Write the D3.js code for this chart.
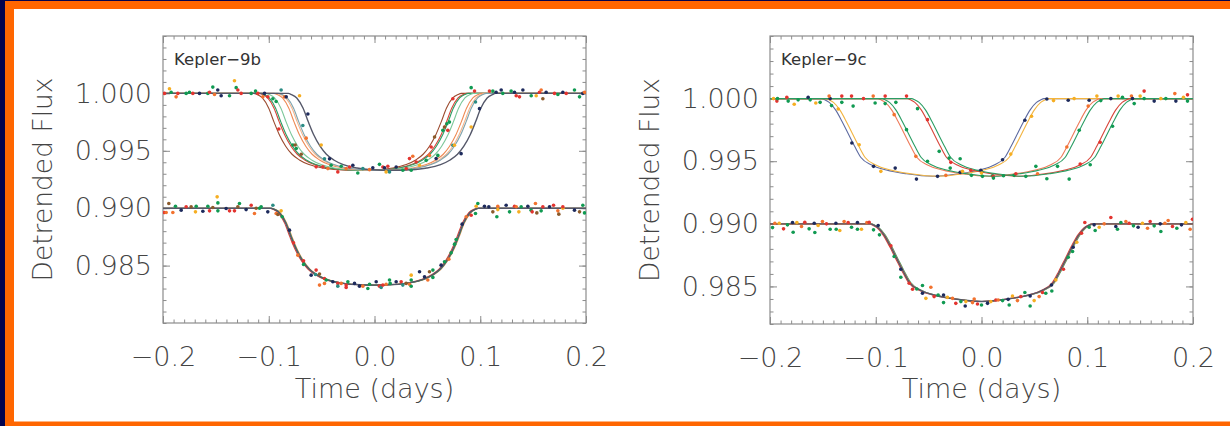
<!DOCTYPE html>
<html>
<head>
<meta charset="utf-8">
<script src="https://cdn.jsdelivr.net/npm/d3@7"></script>
<style>
  html, body { margin: 0; padding: 0; background: #03034e; }
  svg { display: block; }
</style>
</head>
<body>
<svg id="chart" width="1230" height="426"></svg>
<script>
// Axis ticks (labelled)
const timeTicks = [-0.2, -0.1, 0.0, 0.1, 0.2]
const fluxTicks = [0.985, 0.990, 0.995, 1.000]

// Transit shape: [days from mid-transit, depth below baseline]
const shape9b = [[0, 0.0067], [0.018, 0.00665], [0.033, 0.0065], [0.046, 0.0062], [0.055, 0.0058],
  [0.062, 0.0053], [0.068, 0.0046], [0.074, 0.0036], [0.079, 0.0025], [0.084, 0.0013],
  [0.090, 0.0004], [0.095, 0.0001], [0.098, 0], [0.3, 0]]
const shape9c = [[0, 0.0062], [0.025, 0.0060], [0.044, 0.0057], [0.058, 0.0053], [0.068, 0.0047],
  [0.074, 0.0038], [0.080, 0.0028], [0.086, 0.0018], [0.092, 0.0009], [0.098, 0.0003],
  [0.102, 0.0001], [0.105, 0], [0.3, 0]]

// Mid-transit shift of each fitted curve (days) and its colour key
const shift9bTop = [-0.016, -0.011, -0.0095, -0.0045, 0.003, 0.006, 0.0075, 0.0165]
const curve9bTop = ["brown", "red", "green", "ltgreen", "orange", "peach", "teal", "dark"]
const shift9bBottom = [0.001, -0.001, 0.0005, 0]
const curve9bBottom = ["orange", "red", "green", "dark"]
const shift9cTop = [-0.046, -0.042, 0.007, 0.011, 0.035, 0.039]
const curve9cTop = ["slate", "yellow", "coral", "green", "red", "green"]
const shift9cBottom = [0.001, -0.001, 0.0005, 0]
const curve9cBottom = ["green", "red", "orange", "dark"]

// Baselines of the upper (individual) and lower (aligned) light curves
const baseTop = 1.000
const baseBottom = 0.990

// Data points: [time, flux, colour key]
const pts9bTop = [
  [-0.1986,1.0000,"r"],[-0.1939,1.0004,"y"],[-0.1923,1.0001,"g"],[-0.1876,0.9997,"o"],[-0.1860,1.0000,"r"],
  [-0.1781,1.0000,"g"],[-0.1750,1.0001,"g"],[-0.1718,1.0000,"r"],[-0.1655,1.0000,"n"],[-0.1576,1.0000,"g"],
  [-0.1560,1.0001,"r"],[-0.1529,1.00055,"g"],[-0.1513,0.9999,"o"],[-0.1482,1.0003,"n"],[-0.1450,0.9998,"n"],
  [-0.1371,0.9998,"g"],[-0.1324,1.0011,"y"],[-0.1308,1.0005,"g"],[-0.1292,1.0003,"r"],[-0.1261,1.0000,"r"],
  [-0.1166,1.0000,"g"],[-0.1125,1.0002,"g"],[-0.1103,1.0000,"r"],[-0.1056,0.9997,"o"],[-0.1040,1.0000,"n"],
  [-0.1009,0.9997,"r"],[-0.0961,0.99954,"g"],[-0.0930,0.9993,"g"],[-0.0883,1.0003,"t"],[-0.0851,0.9997,"o"],
  [-0.0835,0.9997,"n"],[-0.0709,0.9998,"y"],
  [-0.0905,0.9969,"r"],[-0.0772,0.9955,"g"],[-0.0740,0.9952,"g"],[-0.0750,0.9955,"b"],[-0.0693,0.9947,"b"],
  [-0.0678,0.9972,"t"],[-0.0646,0.9961,"o"],[-0.0630,0.9982,"n"],[-0.0504,0.9955,"y"],[-0.0473,0.9943,"t"],
  [-0.0425,0.9943,"n"],
  [-0.0552,0.9936,"r"],[-0.0489,0.9936,"r"],[-0.0441,0.99345,"o"],[-0.0410,0.99374,"g"],[-0.0347,0.99316,"r"],
  [-0.0315,0.99365,"g"],[-0.0268,0.99345,"o"],[-0.0236,0.99359,"r"],[-0.0205,0.99374,"n"],[-0.0158,0.99307,"g"],
  [-0.0110,0.99345,"t"],[-0.0047,0.99336,"o"],[-0.0016,0.99353,"n"],[0.0047,0.99382,"g"],[0.0079,0.99359,"r"],
  [0.0095,0.99353,"n"],[0.0110,0.99316,"y"],[0.0126,0.99365,"r"],[0.0142,0.99316,"t"],[0.0205,0.99359,"n"],
  [0.0268,0.9933,"g"],[0.0300,0.99345,"r"],[0.0331,0.99432,"r"],[0.0347,0.9933,"g"],[0.0362,0.99452,"o"],
  [0.0394,0.99403,"r"],[0.0426,0.99374,"y"],[0.0489,0.99417,"g"],[0.0520,0.9946,"o"],[0.0536,0.99533,"r"],
  [0.0568,0.9962,"b"],[0.0583,0.99432,"n"],[0.0599,0.9946,"g"],[0.0646,0.99678,"g"],[0.0662,0.99707,"b"],
  [0.0684,0.99736,"g"],[0.0693,0.99678,"r"],[0.0709,0.9975,"g"],[0.0741,0.99548,"t"],[0.0756,0.99548,"y"],
  [0.0819,0.99475,"n"],[0.0741,0.99954,"r"],[0.0914,1.0005,"g"],[0.0946,1.0002,"r"],[0.0914,0.99707,"y"],
  [0.0955,0.99925,"t"],[0.0993,0.99867,"n"],
  [0.1087,1.0002,"r"],[0.1119,1.0002,"g"],[0.1150,1.0001,"n"],[0.1198,1.0003,"n"],[0.1213,1.0000,"g"],
  [0.1292,1.0002,"g"],[0.1324,1.0001,"n"],[0.1340,0.9998,"r"],[0.1371,0.9997,"r"],[0.1403,1.0003,"n"],
  [0.1482,0.9998,"g"],[0.1529,0.9998,"y"],[0.1560,1.0001,"r"],[0.1576,1.0003,"o"],[0.1592,0.99954,"b"],
  [0.1623,1.0001,"n"],[0.1702,1.0000,"r"],[0.1734,0.9999,"g"],[0.1781,1.0001,"n"],[0.1813,1.0000,"r"],
  [0.1891,1.0003,"g"],[0.1939,0.9997,"g"],[0.1970,1.0000,"n"],[0.1986,1.0001,"o"]
]
const pts9bBottom = [
  [-0.1986,0.98962,"r"],[-0.1970,0.98962,"o"],[-0.1945,0.99041,"b"],[-0.1907,0.98962,"o"],[-0.1882,0.99017,"g"],
  [-0.1828,0.98983,"n"],[-0.1781,0.99012,"r"],[-0.1734,0.99012,"b"],[-0.1693,0.98968,"y"],[-0.1686,0.99017,"g"],
  [-0.1623,0.98974,"n"],[-0.1576,0.99017,"g"],[-0.1560,0.98977,"r"],[-0.1529,0.99006,"b"],[-0.1488,0.99099,"y"],
  [-0.1481,0.99046,"g"],[-0.1481,0.98977,"g"],[-0.1403,0.98997,"n"],[-0.1371,0.98977,"r"],[-0.1324,0.98977,"r"],
  [-0.1292,0.99012,"b"],[-0.1277,0.99041,"g"],[-0.1214,0.98988,"n"],[-0.1166,0.99026,"r"],[-0.1135,0.98954,"o"],
  [-0.1119,0.99,"b"],[-0.1087,0.99,"g"],[-0.1072,0.99012,"g"],[-0.1009,0.98968,"n"],[-0.0961,0.99026,"t"],
  [-0.0930,0.98954,"o"],[-0.0914,0.98945,"b"],[-0.0883,0.98977,"y"],[-0.0873,0.98925,"g"],[-0.0804,0.98809,"n"],
  [-0.0766,0.98698,"r"],[-0.0725,0.98591,"o"],[-0.0671,0.98542,"r"],[-0.0671,0.9851,"g"],[-0.0599,0.98417,"n"],
  [-0.0558,0.98423,"t"],[-0.0552,0.98461,"r"],[-0.0520,0.98426,"b"],[-0.0520,0.9833,"o"],[-0.0473,0.98345,"o"],
  [-0.0473,0.98388,"r"],[-0.0457,0.98374,"g"],[-0.0394,0.98359,"n"],[-0.0347,0.98345,"r"],[-0.0347,0.98321,"t"],
  [-0.0315,0.98345,"o"],[-0.0268,0.9833,"r"],[-0.0268,0.9831,"r"],[-0.0252,0.98359,"g"],[-0.0189,0.98345,"n"],
  [-0.0142,0.98321,"n"],[-0.0110,0.98321,"o"],[-0.0063,0.98301,"g"],[-0.0047,0.98338,"g"],[0.0016,0.98359,"n"],
  [0.0047,0.98321,"r"],[0.0063,0.9831,"t"],[0.0079,0.9833,"r"],[0.0110,0.98338,"o"],[0.0142,0.98374,"g"],
  [0.0148,0.98345,"g"],[0.0205,0.98359,"n"],[0.0252,0.98359,"r"],[0.0268,0.9833,"t"],[0.0299,0.98345,"b"],
  [0.0331,0.98338,"o"],[0.0347,0.98374,"g"],[0.0347,0.98417,"y"],[0.0347,0.9832,"g"],[0.0426,0.98446,"n"],
  [0.0473,0.98403,"n"],[0.0504,0.98374,"o"],[0.0520,0.98446,"b"],[0.0552,0.98461,"g"],[0.0552,0.98397,"g"],
  [0.0630,0.98504,"n"],[0.0662,0.98533,"g"],[0.0703,0.98556,"o"],[0.0725,0.98611,"g"],[0.0757,0.98687,"g"],
  [0.0772,0.98727,"g"],[0.0829,0.98861,"n"],[0.0867,0.98925,"o"],[0.0914,0.98939,"r"],[0.0955,0.98954,"g"],
  [0.0961,0.99017,"y"],[0.0977,0.99041,"g"],[0.1040,0.99017,"n"],[0.1081,0.99012,"n"],[0.1119,0.98968,"b"],
  [0.1157,0.98925,"g"],[0.1166,0.99017,"o"],[0.1166,0.98988,"y"],[0.1245,0.99026,"n"],[0.1277,0.98968,"g"],
  [0.1324,0.99017,"r"],[0.1340,0.99012,"o"],[0.1365,0.98968,"y"],[0.1387,0.99012,"g"],[0.1450,0.99017,"n"],
  [0.1481,0.98983,"g"],[0.1491,0.98968,"r"],[0.1522,0.99041,"o"],[0.1535,0.98959,"b"],[0.1576,0.98977,"g"],
  [0.1592,0.99012,"r"],[0.1655,0.99012,"n"],[0.1693,0.99026,"r"],[0.1734,0.98977,"o"],[0.1743,0.98948,"b"],
  [0.1781,0.99,"y"],[0.1781,0.99012,"r"],[0.1891,0.98983,"n"],[0.1939,0.98968,"b"],[0.1970,0.99026,"g"],
  [0.1986,0.98959,"g"]
]
const pts9cTop = [
  [-0.1967,1.0000,"y"],[-0.1935,0.9998,"r"],[-0.1929,1.0000,"g"],[-0.1841,1.0001,"r"],[-0.1828,0.9998,"g"],
  [-0.1771,0.99955,"y"],[-0.1734,0.9999,"g"],[-0.1639,1.0001,"n"],[-0.1620,0.9999,"g"],[-0.1567,0.99965,"y"],
  [-0.1526,0.9997,"g"],[-0.1431,1.0000,"n"],[-0.1441,1.0002,"o"],[-0.1418,0.99944,"g"],[-0.1355,0.99917,"y"],
  [-0.1321,1.0002,"r"],[-0.1321,0.9997,"g"],[-0.1229,1.0002,"r"],[-0.1214,0.9994,"g"],[-0.1226,0.99645,"n"],
  [-0.1157,0.99632,"y"],[-0.1116,1.0000,"r"],[-0.1024,1.0002,"o"],[-0.1006,0.99965,"g"],[-0.1021,0.99459,"n"],
  [-0.0952,0.99419,"y"],[-0.0911,1.0002,"r"],[-0.0911,0.9996,"g"],[-0.0826,0.99872,"o"],[-0.0810,0.9997,"g"],
  [-0.0816,0.99445,"n"],[-0.0709,1.0002,"r"],[-0.0709,0.99752,"g"],[-0.0621,0.99539,"o"],[-0.0615,0.99357,"n"],
  [-0.0605,0.9992,"g"],[-0.0511,0.99832,"r"],[-0.0511,0.99499,"g"],[-0.0416,0.99379,"n"],[-0.0400,0.99579,"g"],
  [-0.0337,0.99387,"o"],[-0.0306,0.99525,"g"],[-0.0296,0.99445,"g"],[-0.0290,0.99491,"r"],[-0.0202,0.9952,"g"],
  [-0.0202,0.99411,"n"],[-0.0180,0.99419,"y"],[-0.0101,0.99427,"r"],[-0.0095,0.99387,"g"],[-0.0006,0.99427,"n"],
  [0.0000,0.99405,"y"],[0.0009,0.99379,"g"],[0.0104,0.99384,"g"],[0.0110,0.99379,"r"],[0.0113,0.99365,"g"],
  [0.0199,0.99512,"n"],[0.0208,0.99384,"g"],[0.0277,0.99557,"y"],[0.0309,0.99387,"g"],[0.0325,0.994,"r"],
  [0.0410,0.99827,"n"],[0.0419,0.99379,"g"],[0.0473,0.99859,"y"],[0.0514,0.99459,"g"],[0.0530,0.994,"o"],
  [0.0618,0.99997,"n"],[0.0618,0.9936,"g"],[0.0681,0.99984,"y"],[0.0719,0.99459,"g"],[0.0807,0.99613,"o"],
  [0.0820,0.99987,"n"],[0.0829,0.99357,"g"],[0.0876,1.0000,"y"],[0.0924,0.99747,"g"],[0.0933,0.99477,"r"],
  [0.1018,0.99987,"n"],[0.1028,0.99472,"g"],[0.1009,0.9994,"o"],[0.1091,1.0002,"y"],[0.1122,0.99651,"r"],
  [0.1128,0.99984,"g"],[0.1223,1.0000,"n"],[0.1239,0.99779,"g"],[0.1292,1.0002,"y"],[0.1333,1.0001,"g"],
  [0.1418,1.0002,"o"],[0.1428,1.0000,"n"],[0.1444,0.9996,"g"],[0.1500,1.0002,"y"],[0.1538,1.0006,"r"],
  [0.1538,1.0000,"g"],[0.1633,0.9998,"n"],[0.1696,1.0000,"y"],[0.1743,1.0000,"g"],[0.1828,1.0004,"o"],
  [0.1838,0.9998,"n"],[0.1910,1.0001,"y"],[0.1948,1.0003,"r"],[0.1948,0.9998,"g"]
]
const pts9cBottom = [
  [-0.1976,0.9897,"g"],[-0.1954,0.99005,"o"],[-0.1913,0.99005,"y"],[-0.1872,0.9896,"r"],[-0.1835,0.98992,"g"],
  [-0.1787,0.99011,"n"],[-0.1781,0.98933,"g"],[-0.1746,0.99011,"y"],[-0.1702,0.98979,"o"],[-0.1671,0.99013,"r"],
  [-0.1630,0.9896,"g"],[-0.1582,0.99005,"n"],[-0.1576,0.98931,"g"],[-0.1545,0.98987,"y"],[-0.1504,0.99019,"o"],
  [-0.1466,0.99,"r"],[-0.1431,0.98957,"g"],[-0.1374,0.98957,"g"],[-0.1377,0.99005,"n"],[-0.1340,0.98947,"y"],
  [-0.1299,0.99019,"o"],[-0.1261,0.99011,"r"],[-0.1229,0.98973,"g"],[-0.1173,0.99011,"n"],[-0.1173,0.98957,"g"],
  [-0.1135,0.98957,"y"],[-0.1084,0.99011,"o"],[-0.1062,0.99013,"r"],[-0.1021,0.98952,"g"],[-0.0977,0.98987,"n"],
  [-0.0965,0.98912,"g"],[-0.0857,0.98824,"r"],[-0.0826,0.98739,"g"],[-0.0763,0.98637,"n"],[-0.0763,0.98573,"g"],
  [-0.0684,0.98525,"r"],[-0.0652,0.98477,"r"],[-0.0612,0.9848,"g"],[-0.0558,0.98507,"g"],[-0.0558,0.98445,"n"],
  [-0.0526,0.98405,"y"],[-0.0479,0.98493,"o"],[-0.0448,0.98419,"r"],[-0.0410,0.98432,"g"],[-0.0359,0.98432,"n"],
  [-0.0359,0.98371,"g"],[-0.0322,0.98413,"y"],[-0.0274,0.98405,"o"],[-0.0243,0.98365,"r"],[-0.0195,0.98379,"g"],
  [-0.0154,0.98344,"n"],[-0.0148,0.98379,"y"],[-0.0085,0.98371,"o"],[-0.0069,0.984,"o"],[-0.0038,0.9836,"r"],
  [0.0000,0.98352,"g"],[0.0057,0.98365,"n"],[0.0088,0.98379,"y"],[0.0136,0.98392,"r"],[0.0158,0.98392,"o"],
  [0.0199,0.98387,"g"],[0.0252,0.98397,"n"],[0.0262,0.98352,"g"],[0.0293,0.98424,"y"],[0.0340,0.98387,"o"],
  [0.0372,0.98419,"r"],[0.0410,0.98451,"g"],[0.0460,0.98424,"n"],[0.0460,0.98344,"g"],[0.0498,0.98387,"y"],
  [0.0545,0.98419,"o"],[0.0577,0.98451,"r"],[0.0608,0.98445,"g"],[0.0665,0.98464,"g"],[0.0662,0.98512,"n"],
  [0.0703,0.98552,"y"],[0.0775,0.98637,"r"],[0.0820,0.98733,"g"],[0.0867,0.98813,"n"],[0.0901,0.98853,"y"],
  [0.0861,0.98779,"g"],[0.0946,0.98925,"r"],[0.0977,0.99011,"r"],[0.1018,0.98973,"g"],[0.1065,0.98992,"n"],
  [0.1075,0.98947,"g"],[0.1113,0.98973,"y"],[0.1160,0.99,"o"],[0.1223,0.99051,"r"],[0.1270,0.98979,"n"],
  [0.1286,0.98957,"g"],[0.1318,0.99011,"g"],[0.1365,0.99019,"o"],[0.1396,0.99005,"r"],[0.1437,0.98984,"g"],
  [0.1481,0.98973,"n"],[0.1522,0.99005,"y"],[0.1570,0.98965,"o"],[0.1595,0.99019,"r"],[0.1633,0.98984,"g"],
  [0.1690,0.99,"n"],[0.1696,0.98939,"g"],[0.1734,0.99005,"o"],[0.1765,0.99027,"o"],[0.1806,0.98979,"r"],
  [0.1847,0.98965,"g"],[0.1891,0.98992,"n"],[0.1932,0.99011,"y"],[0.1973,0.98957,"o"],[0.1995,0.99037,"r"]
]

// Colours
const pointColor = { r: "#e3342f", o: "#f2722e", y: "#f6ae22", g: "#109a52", n: "#1d2a5c", b: "#8b5a2b", t: "#2a8c84" }
const lineColor = {
  brown: "#9b4a2e", red: "#d9453a", green: "#2a9d63", ltgreen: "#7cc79a", orange: "#ee8a55",
  peach: "#f3b58e", teal: "#7ea3ad", dark: "#55586a", slate: "#5d6aa0", yellow: "#f2b440", coral: "#ee7a5a"
}
const fontFamily = "'DejaVu Sans', sans-serif"
const textColor = "#444"
const frameColor = "#8c8c8c"

const svg = d3.select("#chart")

// Slide background: navy edge, orange border, white card
svg.append("rect").attr("width", 1230).attr("height", 426).attr("fill", "#03034e")
svg.append("rect").attr("x", 5).attr("y", 1).attr("width", 1225).attr("height", 425).attr("fill", "#ff6600")
svg.append("rect").attr("x", 14).attr("y", 9).attr("width", 1216).attr("height", 412.5).attr("fill", "#ffffff")

/**
 * Build the points of one model curve from a shape, a shift and a baseline
 */
function curvePoints(shape, shift, base) {
  let left = shape.slice(1).reverse().map(d => [shift - d[0], base - d[1]])
  let right = shape.map(d => [shift + d[0], base - d[1]])
  return left.concat(right)
}

/**
 * Draw one panel (frame, ticks, curves, points, labels)
 */
function drawPanel(p) {
  const x = d3.scaleLinear().domain([-0.2, 0.2]).range([p.left, p.right])
  const y = d3.scaleLinear().domain(p.flux).range([p.bottom, p.top])
  const g = svg.append("g")

  // Clip to the plot box
  g.append("clipPath").attr("id", "clip-" + p.id)
   .append("rect").attr("x", p.left).attr("y", p.top)
   .attr("width", p.right - p.left).attr("height", p.bottom - p.top)

  // Ticks on all four sides, pointing inward
  const minorX = x.ticks(40)
  const minorY = y.ticks(30)
  const axes = [
    [d3.axisBottom, x, `translate(0,${p.bottom})`, timeTicks, minorX, true],
    [d3.axisTop, x, `translate(0,${p.top})`, timeTicks, minorX, false],
    [d3.axisLeft, y, `translate(${p.left},0)`, fluxTicks, minorY, true],
    [d3.axisRight, y, `translate(${p.right},0)`, fluxTicks, minorY, false]
  ]
  axes.forEach(([makeAxis, scale, tr, major, minor, labelled]) => {
    g.append("g").attr("transform", tr)
     .call(makeAxis(scale).tickValues(minor).tickSize(-3.5).tickFormat(""))
    let isX = major === timeTicks
    g.append("g").attr("transform", tr)
     .call(makeAxis(scale).tickValues(major).tickSize(-7)
       .tickPadding(isX ? 24 : 11)
       .tickFormat(labelled ? d3.format(isX ? ".1f" : ".3f") : ""))
  })
  g.selectAll(".domain").remove()
  g.selectAll(".tick line").attr("stroke", frameColor).attr("stroke-width", 1)
  g.selectAll(".tick text").attr("fill", textColor).attr("font-size", 27)
   .attr("font-family", fontFamily).attr("font-weight", 200)

  // Frame
  g.append("rect").attr("x", p.left).attr("y", p.top)
   .attr("width", p.right - p.left).attr("height", p.bottom - p.top)
   .attr("fill", "none").attr("stroke", frameColor).attr("stroke-width", 1.2)

  // Model curves
  const line = d3.line().x(d => x(d[0])).y(d => y(d[1])).curve(d3.curveMonotoneX)
  const plot = g.append("g").attr("clip-path", `url(#clip-${p.id})`)
  p.curves.forEach(([shifts, keys, base]) => {
    shifts.forEach((s, i) => {
      plot.append("path")
          .attr("d", line(curvePoints(p.shape, s, base)))
          .attr("fill", "none")
          .attr("stroke", lineColor[keys[i]])
          .attr("stroke-width", keys[i] == "dark" ? 1.4 : 1.1)
    })
  })

  // Data points
  plot.selectAll("circle.pt")
      .data(p.points)
      .enter()
      .append("circle")
      .attr("class", "pt")
      .attr("cx", d => x(d[0]))
      .attr("cy", d => y(d[1]))
      .attr("r", 1.8)
      .attr("fill", d => pointColor[d[2]])

  // Panel name
  g.append("text").attr("x", p.left + 11).attr("y", p.top + 29)
   .attr("font-size", 16.5).attr("font-family", fontFamily)
   .attr("fill", "#333").text(p.name)

  // Axis titles
  g.append("text")
   .attr("x", (p.left + p.right) / 2).attr("y", 398)
   .attr("text-anchor", "middle").attr("font-size", 27)
   .attr("font-family", fontFamily).attr("font-weight", 200).attr("fill", textColor)
   .text("Time (days)")
  g.append("text")
   .attr("transform", `translate(${p.left - 121},${(p.top + p.bottom) / 2}) rotate(-90)`)
   .attr("text-anchor", "middle").attr("dy", "0.36em").attr("font-size", 26.5)
   .attr("font-family", fontFamily).attr("font-weight", 200).attr("fill", textColor)
   .text("Detrended Flux")
}

drawPanel({
  id: "b", name: "Kepler\u22129b", left: 163, right: 586, top: 36, bottom: 323,
  flux: [0.980, 1.005], shape: shape9b,
  curves: [[shift9bTop, curve9bTop, baseTop], [shift9bBottom, curve9bBottom, baseBottom]],
  points: pts9bTop.concat(pts9bBottom)
})
drawPanel({
  id: "c", name: "Kepler\u22129c", left: 770, right: 1193, top: 36, bottom: 324,
  flux: [0.982, 1.005], shape: shape9c,
  curves: [[shift9cTop, curve9cTop, baseTop], [shift9cBottom, curve9cBottom, baseBottom]],
  points: pts9cTop.concat(pts9cBottom)
})
</script>
</body>
</html>
